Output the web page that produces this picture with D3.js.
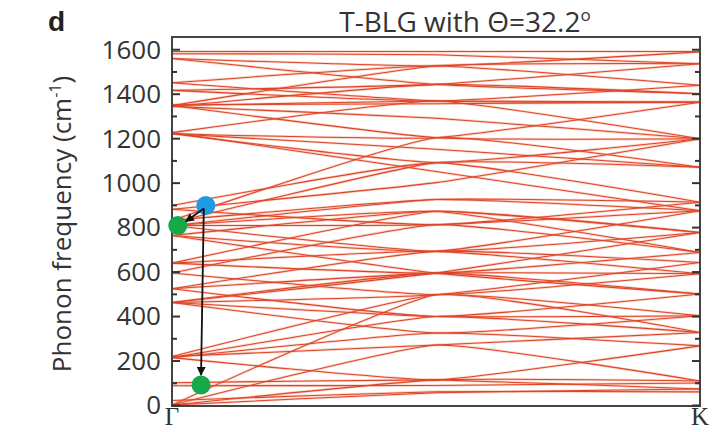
<!DOCTYPE html>
<html><head><meta charset="utf-8">
<script src="https://cdn.jsdelivr.net/npm/d3@7"></script>
<style>body{margin:0;background:#fff}svg{display:block}</style>
</head><body>
<svg id="c" width="721" height="432"></svg>
<script>
// k-path points (fraction along Γ→K)
const kPoints = [0, 0.5, 1];
// phonon bands: frequency (cm^-1) at Γ, midpoint, K
const bandsLow = [
  [0, 55, 72], [20, 60, 59], [87, 88, 99], [100, 113, 72], [0, 113, 108],
  [213, 113, 266], [0, 270, 108], [218, 270, 326], [461, 324, 401], [213, 324, 266],
  [213, 398, 326], [523, 398, 499], [461, 398, 401], [218, 496, 401], [0, 496, 326]
];
const bandsMid = [
  [594, 496, 590], [461, 593, 499], [638, 593, 686], [461, 496, 641], [523, 593, 590],
  [523, 691, 641], [807, 691, 776], [638, 691, 590], [762, 593, 499], [594, 811, 686],
  [880, 811, 912], [807, 811, 874], [762, 871, 776], [638, 871, 776], [830, 924, 874],
  [807, 924, 912], [820, 1090, 1069], [897, 1090, 912], [830, 1202, 1069],
  [807, 871, 686], [762, 691, 874], [880, 1000, 1197], [461, 593, 776]
];
const bandsHigh = [
  [1225, 1050, 874], [1220, 1090, 1197], [1220, 1202, 1362], [1347, 1202, 1197],
  [1225, 1367, 1197], [1347, 1367, 1362], [1350, 1355, 1362], [1343, 1442, 1400],
  [1415, 1367, 1438], [1449, 1367, 1362], [1415, 1442, 1535], [1449, 1525, 1438],
  [1558, 1525, 1588], [1558, 1442, 1400], [1590, 1590, 1590], [1580, 1575, 1535],
  [1347, 1525, 1535], [1343, 1290, 1197], [1220, 1150, 1069]
];
const yTicks = [0, 200, 400, 600, 800, 1000, 1200, 1400, 1600];
const yMinor = [100, 300, 500, 700, 900, 1100, 1300, 1500];
const kLabels = ["Γ", "K"];
// highlighted modes: [k, freq]
const blueMode = [0.064, 897];
const greenModes = [[0.011, 807], [0.055, 90]];

const svg = d3.select("#c");
const L = 172, R = 700, T = 37, B = 405;
const x = d3.scaleLinear().domain([0, 1]).range([L, R]);
const y = d3.scaleLinear().domain([0, 1655]).range([B, T]);

const font = "'Open Sans', 'Noto Sans', sans-serif";

// bands
svg.append("clipPath").attr("id", "clip").append("rect")
  .attr("x", L).attr("y", T).attr("width", R - L).attr("height", B - T);
const line = d3.line().x((d, i) => x(kPoints[i])).y(d => y(d)).curve(d3.curveCardinal.tension(0.6));
const all = bandsLow.concat(bandsMid, bandsHigh);
const g = svg.append("g").attr("clip-path", "url(#clip)");
g.selectAll("path.glow").data(all).join("path").attr("class", "glow")
  .attr("d", line).attr("fill", "none").attr("stroke", "#f6b09a").attr("stroke-width", 2.6).attr("opacity", 0.55);
g.selectAll("path.band").data(all).join("path").attr("class", "band")
  .attr("d", line).attr("fill", "none").attr("stroke", "#de4428").attr("stroke-width", 1.05);

// axes frame
const frame = svg.append("g");
frame.append("rect").attr("x", L).attr("y", T).attr("width", R - L).attr("height", B - T + 1)
  .attr("fill", "none").attr("stroke", "#444").attr("stroke-width", 2);

function ticks(xPos, gen, vals, size) {
  frame.append("g").attr("transform", `translate(${xPos},0)`)
    .call(gen(y).tickValues(vals).tickSize(size).tickFormat(""))
    .call(s => s.select(".domain").remove())
    .call(s => s.selectAll("line").attr("stroke", "#333").attr("stroke-width", 2));
}
ticks(L, d3.axisRight, yTicks, 8);
ticks(L, d3.axisRight, yMinor, 5);
ticks(R, d3.axisLeft, yTicks, 8);
ticks(R, d3.axisLeft, yMinor, 5);

// tick labels
svg.append("g").selectAll("text").data(yTicks).join("text")
  .attr("x", L - 11).attr("y", d => y(d)).attr("dy", "0.36em")
  .attr("text-anchor", "end").attr("font-family", font).attr("font-size", 26).attr("fill", "#333")
  .text(d => d);

// k labels
svg.append("g").selectAll("text").data(kLabels).join("text")
  .attr("x", (d, i) => x(i)).attr("y", 425)
  .attr("text-anchor", "middle").attr("font-family", "'Liberation Serif', 'DejaVu Serif', serif")
  .attr("font-size", 25).attr("fill", "#333").text(d => d);

// y label
svg.append("text").attr("transform", `translate(71,224) rotate(-90)`)
  .attr("text-anchor", "middle").attr("font-family", font).attr("font-size", 26).attr("fill", "#333")
  .html('Phonon frequency (cm<tspan dy="-10" font-size="16">-1</tspan><tspan dy="10">)</tspan>');

// title
svg.append("text").attr("x", 465).attr("y", 32).attr("text-anchor", "middle")
  .attr("font-family", font).attr("font-size", 28).attr("fill", "#333")
  .html('T-BLG with Θ=32.2<tspan dy="-11" font-size="17">o</tspan>');

// panel letter
svg.append("text").attr("x", 48).attr("y", 31).attr("font-family", "'Liberation Sans', Arial, sans-serif")
  .attr("font-weight", "bold").attr("font-size", 28).attr("fill", "#222").text("d");

// arrows
svg.append("defs").append("marker").attr("id", "ah").attr("viewBox", "0 0 10 10").attr("refX", 9).attr("refY", 5)
  .attr("markerWidth", 5).attr("markerHeight", 5).attr("orient", "auto")
  .append("path").attr("d", "M0,0 L10,5 L0,10 z").attr("fill", "#111");

// circles
svg.append("g").selectAll("circle").data(greenModes).join("circle")
  .attr("cx", d => x(d[0])).attr("cy", d => y(d[1])).attr("r", 9.5).attr("fill", "#17a84a");
svg.append("circle").attr("cx", x(blueMode[0])).attr("cy", y(blueMode[1])).attr("r", 9.5).attr("fill", "#1f9be2");

const bx = x(blueMode[0]) - 2, by = y(blueMode[1]) + 3;
svg.append("g").selectAll("line").data(greenModes).join("line")
  .attr("x1", bx).attr("y1", by)
  .attr("x2", (d, i) => i === 0 ? x(d[0]) + 8 : x(d[0]))
  .attr("y2", (d, i) => i === 0 ? y(d[1]) - 4 : y(d[1]) - 10)
  .attr("stroke", "#111").attr("stroke-width", 1.8).attr("marker-end", "url(#ah)");
</script>
</body></html>
